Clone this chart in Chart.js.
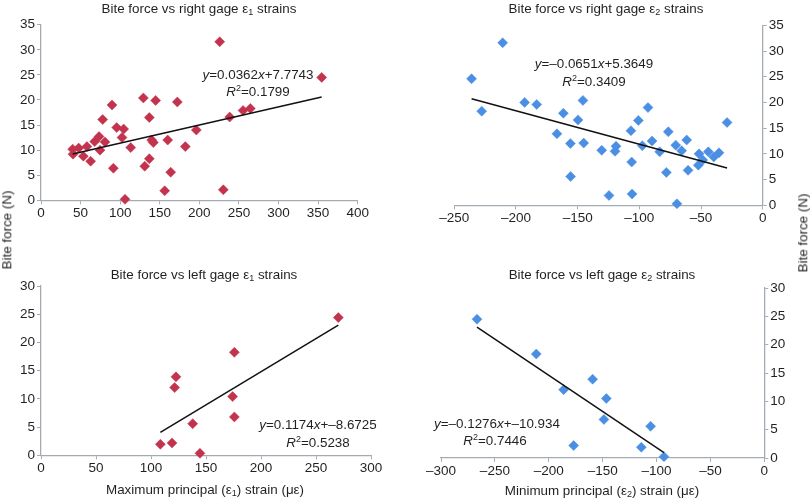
<!DOCTYPE html>
<html>
<head>
<meta charset="utf-8">
<script src="https://cdn.jsdelivr.net/npm/chart.js@4"></script>
<style>
  html, body { margin: 0; padding: 0; background: #fff; }
  #wrap { position: relative; width: 810px; height: 502px; overflow: hidden; font-family: "Liberation Sans", Arial, sans-serif; color: #231f20; }
  canvas { position: absolute; }
  .t { position: absolute; white-space: nowrap; font-size: 13.4px; line-height: 1; transform: translate(-50%, -50%); }
  .t sub { font-size: 9px; vertical-align: -2px; line-height: 0; }
  .t sup { font-size: 9px; vertical-align: 5px; line-height: 0; }
  .rot { transform: translate(-50%, -50%) rotate(-90deg); }
</style>
</head>
<body>
<div id="wrap">
  <canvas id="c1" width="405" height="250" style="left:0;top:0"></canvas>
  <canvas id="c2" width="405" height="250" style="left:405px;top:0"></canvas>
  <canvas id="c3" width="405" height="252" style="left:0;top:250px"></canvas>
  <canvas id="c4" width="405" height="252" style="left:405px;top:250px"></canvas>

  <div class="t" style="left:199px;top:9px">Bite force vs right gage ε<sub>1</sub> strains</div>
  <div class="t" style="left:606px;top:9px">Bite force vs right gage ε<sub>2</sub> strains</div>
  <div class="t" style="left:204px;top:275px">Bite force vs left gage ε<sub>1</sub> strains</div>
  <div class="t" style="left:602px;top:275px">Bite force vs left gage ε<sub>2</sub> strains</div>

  <div class="t" style="left:258px;top:75px"><i>y</i>=0.0362<i>x</i>+7.7743</div>
  <div class="t" style="left:258px;top:92px"><i>R</i><sup>2</sup>=0.1799</div>
  <div class="t" style="left:594px;top:64px"><i>y</i>=–0.0651<i>x</i>+5.3649</div>
  <div class="t" style="left:594px;top:82px"><i>R</i><sup>2</sup>=0.3409</div>
  <div class="t" style="left:318px;top:425px"><i>y</i>=0.1174<i>x</i>+–8.6725</div>
  <div class="t" style="left:318px;top:443px"><i>R</i><sup>2</sup>=0.5238</div>
  <div class="t" style="left:497px;top:424px"><i>y</i>=–0.1276<i>x</i>+–10.934</div>
  <div class="t" style="left:495px;top:441px"><i>R</i><sup>2</sup>=0.7446</div>

  <div class="t rot" style="left:7px;top:230px">Bite force (N)</div>
  <div class="t rot" style="left:803px;top:233px">Bite force (N)</div>
  <div class="t" style="left:205px;top:490px">Maximum principal (ε<sub>1</sub>) strain (με)</div>
  <div class="t" style="left:602px;top:491px">Minimum principal (ε<sub>2</sub>) strain (με)</div>
</div>
<script>
// ---- Data ----
const rightE1X = [40, 40.4, 47.6, 53.5, 58, 62.7, 67.8, 73.3, 74.5, 77.9, 80.8, 89.7, 91.4, 95.6, 102.3, 104.4, 106.1, 113.3, 129.3, 131, 136.8, 136.8, 139.8, 141.9, 144.8, 156.2, 160, 163.8, 172.2, 182.3, 196.2, 225.7, 230.3, 238.3, 255.2, 264.4, 354.5];
const rightE1Y = [10.2, 9.2, 10.4, 8.8, 10.7, 7.8, 11.7, 12.7, 10.0, 16.1, 11.6, 19.0, 6.4, 14.5, 12.5, 14.2, 0.2, 10.5, 20.4, 6.8, 16.5, 8.3, 12.0, 11.5, 19.9, 1.9, 12.0, 5.6, 19.6, 10.7, 14.0, 31.6, 2.1, 16.6, 17.9, 18.3, 24.5];

const rightE2X = [-236, -227.8, -210.8, -193, -183.2, -166.8, -161.6, -155.9, -155.7, -149.7, -145.7, -145.1, -130.5, -124.6, -119.7, -118.9, -106.8, -105.9, -100.8, -106.2, -97.6, -93, -89.7, -83.5, -78.1, -76.5, -70.5, -69.5, -65.7, -61.6, -60.5, -52.2, -51.6, -48.6, -44.1, -39.7, -35.4, -28.9];
const rightE2Y = [24.6, 18.3, 31.6, 20.0, 19.6, 13.9, 17.9, 12.0, 5.6, 16.6, 20.4, 12.1, 10.7, 1.9, 10.5, 11.5, 14.5, 2.2, 16.5, 8.4, 11.6, 19.0, 12.5, 10.4, 6.4, 14.3, 11.7, 0.3, 10.6, 12.7, 6.8, 7.8, 10.0, 8.8, 10.4, 9.4, 10.2, 16.1];

const leftE1X = [108.5, 119.1, 121.5, 122.7, 137.9, 144.5, 174.2, 175.8, 175.8, 270.3];
const leftE1Y = [1.95, 2.2, 12.0, 13.9, 5.6, 0.35, 10.4, 18.25, 6.8, 24.4];

const leftE2X = [-266.6, -211.6, -186.2, -176.9, -159.3, -148.8, -146.6, -114.1, -105.5, -93.1];
const leftE2Y = [24.5, 18.35, 12.06, 2.2, 13.9, 6.8, 10.5, 1.9, 5.6, 0.24];

// Linear trendline coefficients [slope, intercept] as printed on the chart
const fitRightE1 = [0.0362, 7.7743];
const fitRightE2 = [-0.0651, 5.3649];
const fitLeftE1 = [0.1174, -8.6725];
const fitLeftE2 = [-0.1276, -10.934];

// Axis ranges [min, max, step]
const xRangeRightE1 = [0, 400, 50];
const xRangeRightE2 = [-250, 0, 50];
const xRangeLeftE1 = [0, 300, 50];
const xRangeLeftE2 = [-300, 0, 50];
const yRangeTop = [0, 35, 5];
const yRangeBottom = [0, 30, 5];

const RED = '#c3334d';
const BLUE = '#4a8fe3';
const AXIS = '#a3abb3';
const FONT = { family: '"Liberation Sans", Arial, sans-serif', size: 13.5 };

function pts(xs, ys) { return xs.map((x, i) => ({ x: x, y: ys[i] })); }
function fitLine(xs, fit) {
  const lo = Math.min(...xs), hi = Math.max(...xs);
  return [{ x: lo, y: fit[0] * lo + fit[1] }, { x: hi, y: fit[0] * hi + fit[1] }];
}
function fmt(v) { return String(v).replace('-', '–'); }

function makeChart(id, xs, ys, fit, color, xr, yr, yPos, pad) {
  new Chart(document.getElementById(id), {
    type: 'scatter',
    data: {
      datasets: [
        {
          data: pts(xs, ys),
          pointStyle: 'rectRot',
          pointRadius: 5,
          pointHoverRadius: 5,
          backgroundColor: color,
          borderColor: color,
          borderWidth: 0.5,
          clip: false,
          order: 1
        },
        {
          type: 'line',
          data: fitLine(xs, fit),
          borderColor: '#111',
          borderWidth: 1.5,
          pointRadius: 0,
          fill: false,
          clip: false,
          order: 0
        }
      ]
    },
    options: {
      responsive: false,
      animation: false,
      events: [],
      layout: { padding: pad },
      plugins: { legend: { display: false }, tooltip: { enabled: false }, title: { display: false } },
      scales: {
        x: {
          type: 'linear',
          min: xr[0], max: xr[1],
          afterFit: s => { s.height = 30; },
          ticks: { stepSize: xr[2], font: FONT, color: '#231f20', padding: 1, maxRotation: 0, callback: v => fmt(v) },
          grid: { drawOnChartArea: false, drawTicks: true, tickLength: 4, color: AXIS, lineWidth: 1 },
          border: { display: true, color: AXIS, width: 1.3 }
        },
        y: {
          type: 'linear',
          position: yPos,
          min: yr[0], max: yr[1],
          afterFit: s => { s.width = 40; },
          ticks: { stepSize: yr[2], font: FONT, color: '#231f20', padding: 2, callback: v => fmt(v) },
          grid: { drawOnChartArea: false, drawTicks: true, tickLength: 4, color: AXIS, lineWidth: 1 },
          border: { display: true, color: AXIS, width: 1.3 }
        }
      }
    }
  });
}

makeChart('c1', rightE1X, rightE1Y, fitRightE1, RED, xRangeRightE1, yRangeTop, 'left',
  { left: 1, top: 24.7, right: 47.3, bottom: 19.7 });
makeChart('c2', rightE2X, rightE2Y, fitRightE2, BLUE, xRangeRightE2, yRangeTop, 'right',
  { left: 49.3, top: 25.3, right: 7.3, bottom: 14.7 });
makeChart('c3', leftE1X, leftE1Y, fitLeftE1, RED, xRangeLeftE1, yRangeBottom, 'left',
  { left: 1, top: 36, right: 34, bottom: 16.7 });
makeChart('c4', leftE2X, leftE2Y, fitLeftE2, BLUE, xRangeLeftE2, yRangeBottom, 'right',
  { left: 36, top: 38, right: 5.7, bottom: 14 });
</script>
</body>
</html>
